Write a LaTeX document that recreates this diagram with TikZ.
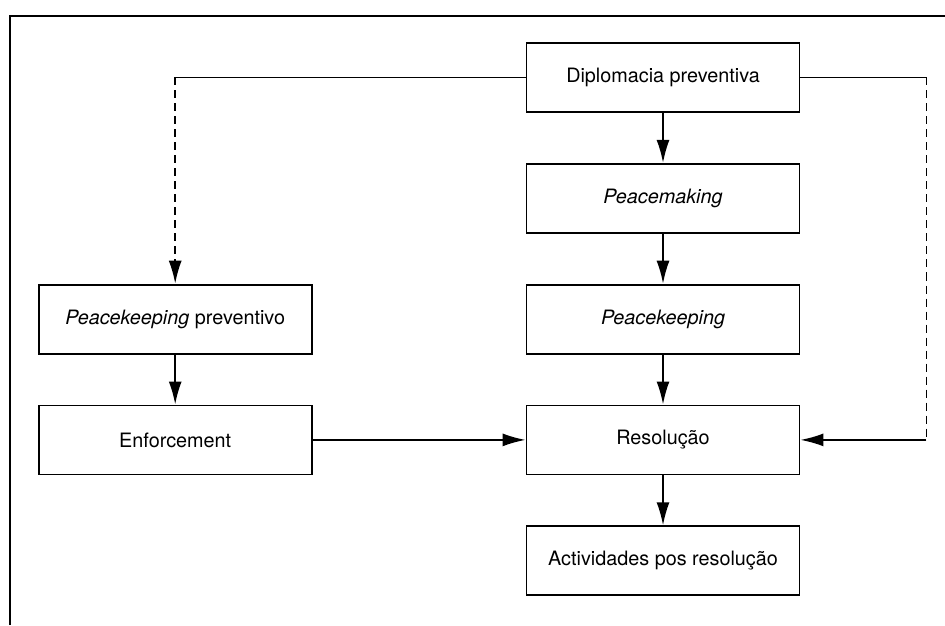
\documentclass[tikz,border=0pt]{standalone}
\usepackage{fontspec}
\setmainfont{TeX Gyre Heros}
\usetikzlibrary{positioning, arrows.meta}
\tikzset{
  >={Latex[length=11.5pt,width=6.5pt]},
  node distance=25pt and 106.5pt,
  box/.style={draw, line width=0.9pt, minimum width=136.5pt, minimum height=34.5pt,
    inner sep=2pt, font=\fontsize{9.9}{12}\selectfont},
  link/.style={line width=0.9pt},
  dashlink/.style={line width=0.9pt, dash pattern=on 4pt off 2.5pt},
}

\begin{document}
\begin{tikzpicture}[x=0.5pt, y=-0.5pt]
        \useasboundingbox (0,0) rectangle (945,625);
        % frame
        \draw[line width=1.4pt] (10,625) -- (10,16) -- (945,16);

        % boxes
        \node[box] (dip) at (663,77.5) {Diplomacia preventiva};
        \node[box, below=of dip] (make) {\textit{Peacemaking}};
        \node[box, below=of make] (keep) {\textit{Peacekeeping}};
        \node[box, below=of keep] (res) {Resolução};
        \node[box, below=of res] (post) {Actividades pos resolução};
        \node[box, left=of keep] (prevkeep) {\textit{Peacekeeping} preventivo};
        \node[box, below=of prevkeep] (enf) {Enforcement};
        \coordinate[right=63pt of dip.east] (rturn);

        % arrows
        \draw[link, ->] (dip) -- (make);
        \draw[link, ->] (make) -- (keep);
        \draw[link, ->] (keep) -- (res);
        \draw[link, ->] (res) -- (post);
        \draw[link, ->] (prevkeep) -- (enf);
        \draw[link, ->] (enf) -- (res);
        \draw[link] (dip.west) -- (dip.west -| prevkeep.north);
        \draw[dashlink, ->] (dip.west -| prevkeep.north) -- (prevkeep.north);
        \draw[link] (dip.east) -- (rturn);
        \draw[dashlink] (rturn) -- (rturn |- res.east);
        \draw[link, ->] (rturn |- res.east) -- (res.east);
\end{tikzpicture}
\end{document}
